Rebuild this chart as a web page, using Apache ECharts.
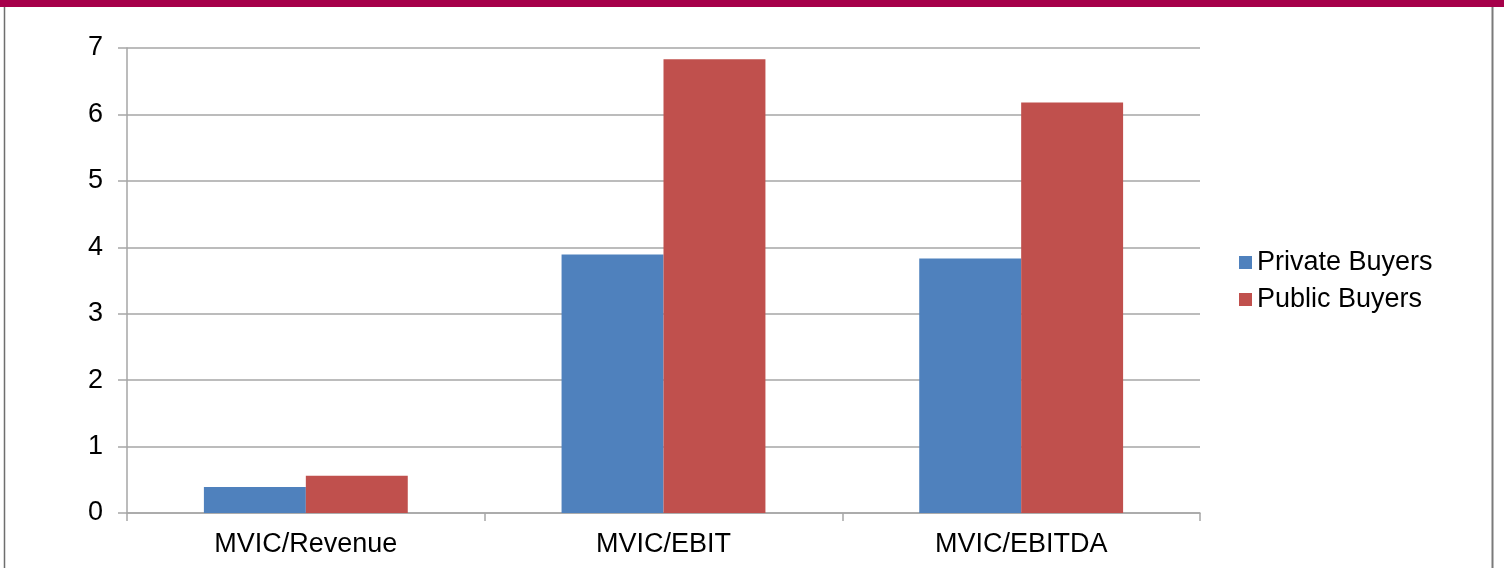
<!DOCTYPE html>
<html>
<head>
<meta charset="utf-8">
<script src="https://cdn.jsdelivr.net/npm/echarts@6/dist/echarts.min.js"></script>
<style>
  html, body { margin: 0; padding: 0; background: #ffffff; }
  #chart { width: 1504px; height: 568px; }
</style>
</head>
<body>
<div id="chart"></div>
<script>
// Valuation multiples by buyer type
const categories = ['MVIC/Revenue', 'MVIC/EBIT', 'MVIC/EBITDA'];
const privateBuyers = [0.39, 3.89, 3.83];
const publicBuyers = [0.56, 6.83, 6.18];
const seriesNames = ['Private Buyers', 'Public Buyers'];
const yTicks = { min: 0, max: 7, interval: 1 };

const FONT = '"Liberation Sans", Arial, sans-serif';
const FONT_SIZE = 27;
const GRID_GREY = '#a6a6a6';

const chart = echarts.init(document.getElementById('chart'), null, { renderer: 'canvas' });

chart.setOption({
  animation: false,
  backgroundColor: '#ffffff',
  textStyle: { fontFamily: FONT, color: '#000000' },
  graphic: [
    // header band
    { type: 'rect', left: 0, top: 0, shape: { width: 1504, height: 7 }, style: { fill: '#a6004a' }, z: 10 },
    // frame sides
    { type: 'line', shape: { x1: 4.5, y1: 7, x2: 4.5, y2: 568 }, style: { stroke: '#6e6e6e', lineWidth: 1.5 }, z: 10 },
    { type: 'line', shape: { x1: 1492.5, y1: 7, x2: 1492.5, y2: 568 }, style: { stroke: '#7a7a7a', lineWidth: 2 }, z: 10 }
  ],
  grid: { left: 127, right: 304, top: 48, bottom: 55, containLabel: false },
  legend: {
    orient: 'vertical',
    left: 1239,
    top: 249,
    padding: 0,
    itemWidth: 13,
    itemHeight: 13,
    itemGap: 10,
    icon: 'rect',
    data: seriesNames,
    textStyle: { fontFamily: FONT, fontSize: FONT_SIZE, color: '#000000', lineHeight: 27 }
  },
  xAxis: {
    type: 'category',
    data: categories,
    axisLine: { lineStyle: { color: GRID_GREY, width: 1.5 } },
    axisTick: { show: true, length: 8, lineStyle: { color: GRID_GREY, width: 1.5 } },
    axisLabel: { fontFamily: FONT, fontSize: FONT_SIZE, color: '#000000', margin: 18 }
  },
  yAxis: {
    type: 'value',
    min: yTicks.min,
    max: yTicks.max,
    interval: yTicks.interval,
    axisLine: { show: true, lineStyle: { color: GRID_GREY, width: 1.5 } },
    axisTick: { show: true, length: 9, lineStyle: { color: GRID_GREY, width: 1.5 } },
    axisLabel: { fontFamily: FONT, fontSize: FONT_SIZE, color: '#000000', margin: 24 },
    splitLine: { show: true, lineStyle: { color: GRID_GREY, width: 1.5 } }
  },
  series: [
    {
      name: seriesNames[0],
      type: 'bar',
      data: privateBuyers,
      barGap: '0%',
      barCategoryGap: '43%',
      itemStyle: { color: '#4f81bd' }
    },
    {
      name: seriesNames[1],
      type: 'bar',
      data: publicBuyers,
      barGap: '0%',
      barCategoryGap: '43%',
      itemStyle: { color: '#c0504d' }
    }
  ]
});
</script>
</body>
</html>
